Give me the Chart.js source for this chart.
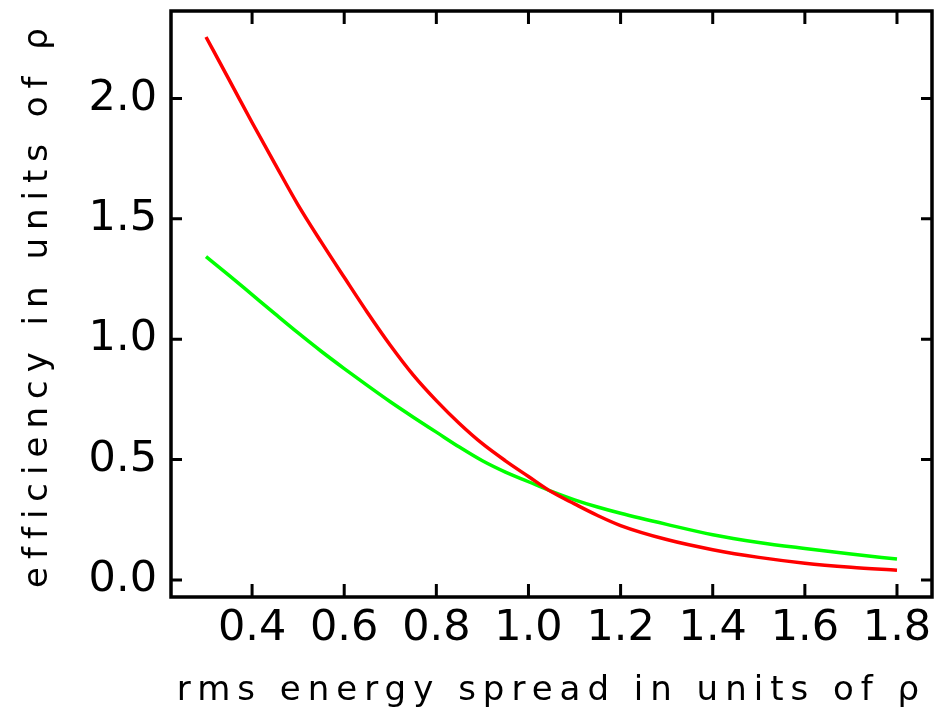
<!DOCTYPE html>
<html>
<head>
<meta charset="utf-8">
<script src="https://cdn.jsdelivr.net/npm/chart.js@4/dist/chart.umd.min.js"></script>
<style>
  html, body { margin: 0; padding: 0; background: #fff; }
  #wrap { width: 936px; height: 712px; }
</style>
</head>
<body>
<div id="wrap"><canvas id="myChart" width="936" height="712"></canvas></div>
<script>
const spread = [0.30, 0.35, 0.40, 0.45, 0.50, 0.55, 0.60, 0.65, 0.70, 0.75, 0.80, 0.85, 0.90, 0.95,
                1.00, 1.05, 1.10, 1.15, 1.20, 1.30, 1.40, 1.50, 1.60, 1.70, 1.80];
const redEff = [2.255, 2.078, 1.900, 1.727, 1.557, 1.404, 1.257, 1.112, 0.975, 0.851, 0.745, 0.650, 0.566, 0.495,
                0.430, 0.366, 0.316, 0.268, 0.226, 0.168, 0.126, 0.094, 0.070, 0.053, 0.040];
const greenEff = [1.343, 1.265, 1.185, 1.105, 1.026, 0.950, 0.878, 0.808, 0.740, 0.676, 0.614, 0.552, 0.495, 0.448,
                  0.408, 0.368, 0.333, 0.303, 0.277, 0.231, 0.188, 0.156, 0.131, 0.108, 0.087];
const xTicks = [0.4, 0.6, 0.8, 1.0, 1.2, 1.4, 1.6, 1.8];
const yTicks = [0.0, 0.5, 1.0, 1.5, 2.0];

const FONT = 'DejaVu Sans';

function toPoints(ys) {
  return spread.map((x, i) => ({ x: x, y: ys[i] }));
}

// widen the title lettering a bit, the original uses a very wide plotter font
function spaceTitle(scale, sp) {
  if (scale._spaced) return;
  const orig = scale.drawTitle;
  scale.drawTitle = function () {
    this.ctx.letterSpacing = sp;
    orig.call(this);
    this.ctx.letterSpacing = '0px';
  };
  scale._spaced = true;
}

const framePlugin = {
  id: 'frame',
  afterDraw(chart) {
    const { ctx, chartArea: a, scales } = chart;
    ctx.save();
    ctx.strokeStyle = '#000';
    ctx.lineWidth = 3.5;
    ctx.strokeRect(a.left, a.top, a.right - a.left, a.bottom - a.top);
    ctx.lineWidth = 3;
    ctx.beginPath();
    scales.x.ticks.forEach(t => {
      const px = scales.x.getPixelForValue(t.value);
      ctx.moveTo(px, a.bottom); ctx.lineTo(px, a.bottom - 13);
      ctx.moveTo(px, a.top); ctx.lineTo(px, a.top + 13);
    });
    scales.y.ticks.forEach(t => {
      const py = scales.y.getPixelForValue(t.value);
      ctx.moveTo(a.left, py); ctx.lineTo(a.left + 11, py);
      ctx.moveTo(a.right, py); ctx.lineTo(a.right - 11, py);
    });
    ctx.stroke();
    ctx.restore();
  }
};

const ctx = document.getElementById('myChart');

const myChart = new Chart(ctx, {
  type: 'line',
  data: {
    datasets: [{
      label: 'red',
      data: toPoints(redEff),
      borderColor: '#ff0000',
      borderWidth: 3.5,
      pointRadius: 0,
      cubicInterpolationMode: 'monotone',
      fill: false
    }, {
      label: 'green',
      data: toPoints(greenEff),
      borderColor: '#00ff00',
      borderWidth: 3.5,
      pointRadius: 0,
      cubicInterpolationMode: 'monotone',
      fill: false
    }]
  },
  options: {
    responsive: false,
    animation: false,
    events: [],
    layout: { padding: { top: 11, right: 4, left: 0, bottom: 0 } },
    plugins: {
      legend: { display: false },
      tooltip: { enabled: false }
    },
    scales: {
      x: {
        type: 'linear',
        min: 0.224,
        max: 1.876,
        grid: { display: false, drawTicks: false },
        border: { display: false },
        afterBuildTicks: s => { s.ticks = xTicks.map(v => ({ value: v })); },
        afterFit: s => {
          s.height = 115;
          s.paddingLeft = 0; s.paddingRight = 0;
          spaceTitle(s, '7px');
        },
        ticks: {
          color: '#000',
          padding: 6,
          maxRotation: 0,
          autoSkip: false,
          font: { family: FONT, size: 43 },
          callback: v => v.toFixed(1)
        },
        title: {
          display: true,
          text: 'rms energy spread in units of ρ',
          color: '#000',
          padding: { top: 0, bottom: 0 },
          font: { family: FONT, size: 34 }
        }
      },
      y: {
        type: 'linear',
        min: -0.0706,
        max: 2.363,
        grid: { display: false, drawTicks: false },
        border: { display: false },
        afterBuildTicks: s => { s.ticks = yTicks.map(v => ({ value: v })); },
        afterFit: s => {
          s.width = 171;
          s.paddingTop = 0; s.paddingBottom = 0;
          spaceTitle(s, '8px');
        },
        ticks: {
          color: '#000',
          padding: 14,
          autoSkip: false,
          font: { family: FONT, size: 43 },
          callback: v => v.toFixed(1)
        },
        title: {
          display: true,
          text: 'efficiency in units of ρ',
          color: '#000',
          padding: { top: 18, bottom: 0 },
          font: { family: FONT, size: 34 }
        }
      }
    }
  },
  plugins: [framePlugin]
});
</script>
</body>
</html>
